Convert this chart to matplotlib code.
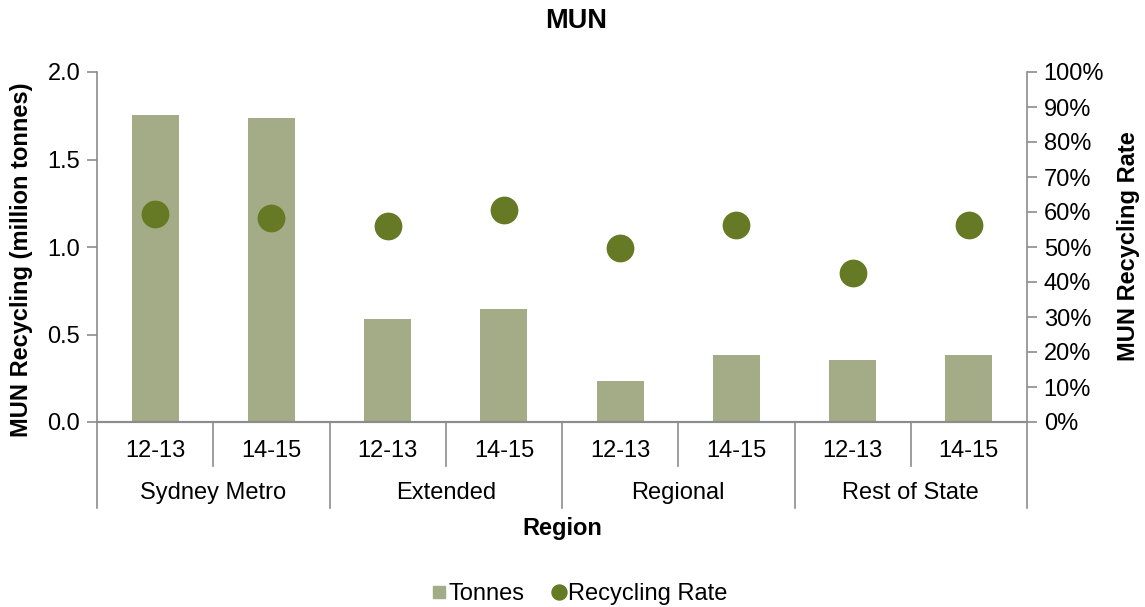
import matplotlib.pyplot as plt
from matplotlib.lines import Line2D
import matplotlib.transforms as mtransforms
from matplotlib.ticker import PercentFormatter

plt.rcParams['font.family'] = ['Liberation Sans', 'DejaVu Sans']

# data
regions = ["Sydney Metro", "Extended", "Regional", "Rest of State"]
years = ["12-13", "14-15"]
tonnes = [1.755, 1.737, 0.587, 0.644, 0.233, 0.382, 0.353, 0.382]
rate = [59.4, 58.2, 56.0, 60.6, 49.6, 56.2, 42.6, 56.2]

bar_col = "#A3AC86"
dot_col = "#667A25"
axis_col = "#8C8C8C"
fs = 17

W, H = 1145, 607
fig = plt.figure(figsize=(W / 100, H / 100), dpi=100)
ax = fig.add_axes([97 / W, 1 - 422 / H, (1027 - 97) / W, (422 - 72) / H])

x = list(range(len(tonnes)))
ax.bar(x, tonnes, width=0.405, color=bar_col, zorder=2)
ax.set_xlim(-0.5, len(tonnes) - 0.5)
ax.set_ylim(0, 2.0)
ax.set_yticks([0, 0.5, 1.0, 1.5, 2.0])
ax.set_yticklabels(["0.0", "0.5", "1.0", "1.5", "2.0"])
ax.set_xticks([])

ax2 = ax.twinx()
ax2.scatter(x, rate, s=400, color=dot_col, zorder=3, linewidths=0)
ax2.set_ylim(0, 100)
ax2.set_yticks(range(0, 101, 10))
ax2.yaxis.set_major_formatter(PercentFormatter(decimals=0))

for a in (ax, ax2):
    a.spines["top"].set_visible(False)
    a.spines["bottom"].set_color(axis_col)
    a.spines["left"].set_color(axis_col)
    a.spines["right"].set_color(axis_col)
    a.spines["bottom"].set_linewidth(1.5)
    a.spines["left"].set_linewidth(1.2)
    a.spines["right"].set_linewidth(1.2)
    a.tick_params(axis="y", colors=axis_col, labelcolor="black", labelsize=fs,
                  length=7, width=1.2, direction="out", pad=5)
ax.spines["right"].set_visible(False)
ax2.spines["left"].set_visible(False)

# multi-level category axis
trans = mtransforms.blended_transform_factory(ax.transData, fig.transFigure)
def fy(py):
    return 1 - py / H

for i, xv in enumerate(x):
    ax.text(xv, fy(451), years[i % 2], transform=trans, ha="center", va="center", fontsize=fs)
for j, r in enumerate(regions):
    ax.text(2 * j + 0.5, fy(493), r, transform=trans, ha="center", va="center", fontsize=fs)
    # inner separator
    fig.add_artist(Line2D([2 * j + 0.5, 2 * j + 0.5], [fy(422), fy(466)], transform=trans,
                          color=axis_col, lw=1.2, clip_on=False))
for k in range(len(regions) + 1):
    xb = 2 * k - 0.5
    fig.add_artist(Line2D([xb, xb], [fy(422), fy(508)], transform=trans,
                          color=axis_col, lw=1.2, clip_on=False))

fig.text(562 / W, fy(528), "Region", ha="center", va="center", fontsize=fs, fontweight="bold")
fig.text(576 / W, fy(21), "MUN", ha="center", va="center", fontsize=19.5, fontweight="bold")
fig.text(22 / W, fy(260), "MUN Recycling (million tonnes)", rotation=90, ha="center", va="center",
         fontsize=fs, fontweight="bold")
fig.text(1128 / W, fy(246), "MUN Recycling Rate", rotation=90, ha="center", va="center",
         fontsize=fs, fontweight="bold")

handles = [Line2D([], [], marker="s", ls="", color=bar_col, markersize=8.6),
           Line2D([], [], marker="o", ls="", color=dot_col, markersize=10.8)]
fig.legend(handles, ["Tonnes", "Recycling Rate"], loc="center", bbox_to_anchor=(579 / W, fy(594)),
           ncol=2, frameon=False, fontsize=fs, handletextpad=0.05, columnspacing=1.1,
           handlelength=0.7)

fig.savefig("out.png", dpi=100)
